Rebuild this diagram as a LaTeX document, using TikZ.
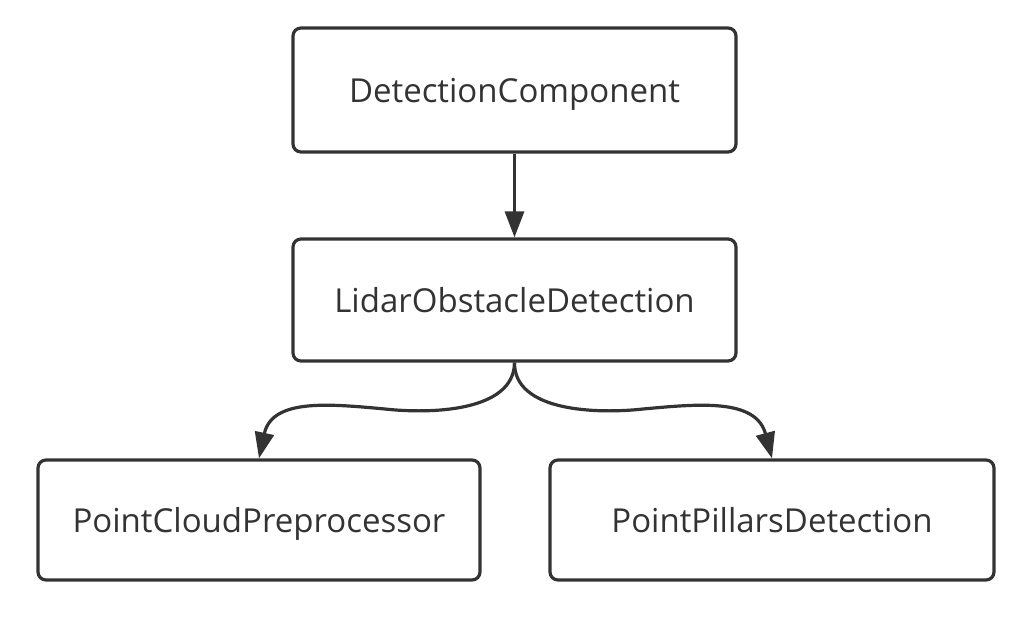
\documentclass[tikz,border=0pt]{standalone}
\usepackage{fontspec}
\setmainfont{Open Sans}
\usetikzlibrary{arrows.meta}
\definecolor{ink}{HTML}{333333}
\begin{document}
\begin{tikzpicture}[x=1pt,y=-1pt,
  box/.style={draw=ink, line width=3.2pt, rounded corners=8pt, fill=white,
    text=ink, font=\fontsize{33}{38}\selectfont, inner sep=0pt, text depth=0pt},
  link/.style={draw=ink, line width=3.2pt,
    -{Triangle[length=26pt,width=19pt]}}]
  \useasboundingbox (0,0) rectangle (1031,628);
  % class boxes
  \node[box, minimum width=443pt, minimum height=124pt] (dc) at (514.5,90) {DetectionComponent};
  \node[box, minimum width=443pt, minimum height=122pt] (lod) at (514.5,300) {LidarObstacleDetection};
  \node[box, minimum width=442pt, minimum height=120pt] (pcp) at (259,520) {PointCloudPreprocessor};
  \node[box, minimum width=444pt, minimum height=120pt] (ppd) at (772,520) {PointPillarsDetection};
  % connectors
  \coordinate (split) at (lod.south);
  \coordinate (leftmid) at (385,409);
  \coordinate (rightmid) at (643,409);
  \draw[link] (dc.south) -- (lod.north);
  \draw[link] (split) .. controls (514,412) and (430,414) .. (leftmid)
    .. controls (330,404) and (272,398) .. (pcp.north);
  \draw[link] (split) .. controls (514,412) and (598,414) .. (rightmid)
    .. controls (698,404) and (756,398) .. (ppd.north);
\end{tikzpicture}
\end{document}
